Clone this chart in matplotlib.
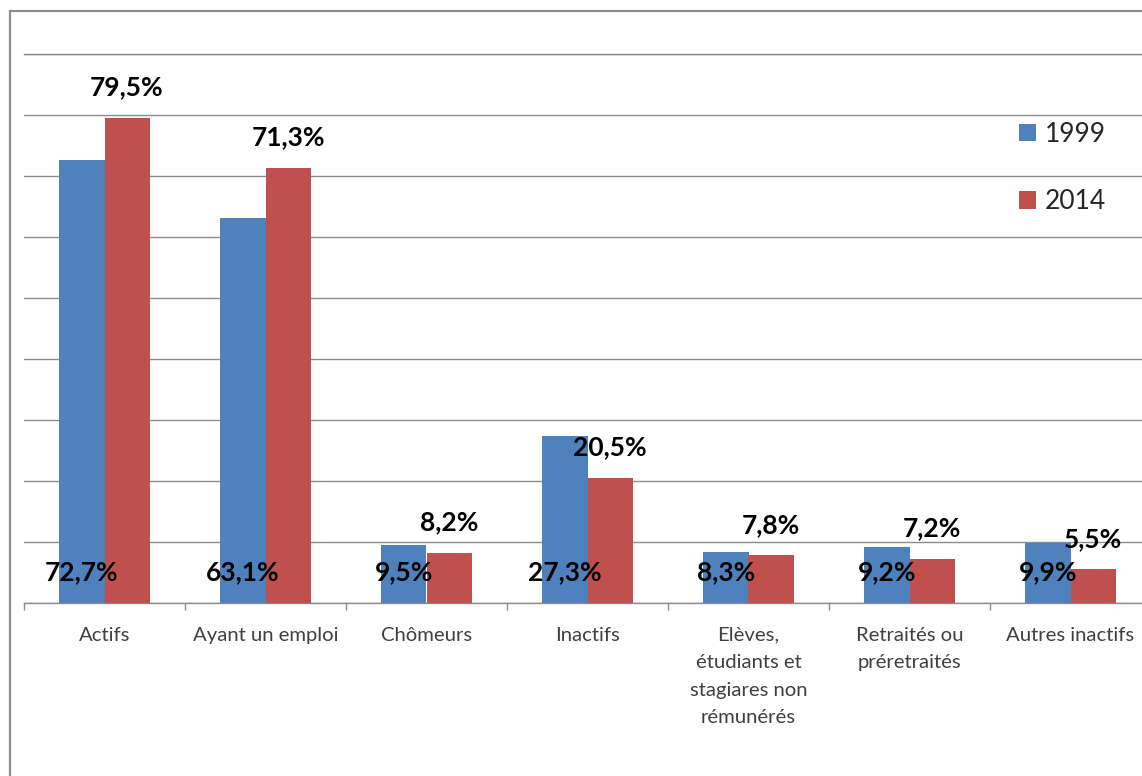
import matplotlib
matplotlib.use("Agg")
import matplotlib.pyplot as plt
import numpy as np
from matplotlib.patches import Rectangle

### DATA ###
categories = ["Actifs", "Ayant un emploi", "Chômeurs", "Inactifs",
              "Elèves,\nétudiants et\nstagiares non\nrémunérés",
              "Retraités ou\npréretraités", "Autres inactifs"]
values_1999 = [72.7, 63.1, 9.5, 27.3, 8.3, 9.2, 9.9]
values_2014 = [79.5, 71.3, 8.2, 20.5, 7.8, 7.2, 5.5]
series_names = ["1999", "2014"]

### STYLE ###
BLUE = "#4F81BD"
RED = "#C0504D"
GRID = "#8C8C8C"
TEXT = "#404040"
FONT = ["Lato", "DejaVu Sans"]
plt.rcParams["font.family"] = FONT

W, H = 1142, 776
fig = plt.figure(figsize=(W / 100, H / 100), dpi=100)

# plot area in pixels (left, top, right, bottom) - right side runs past the image
left, top, right, bottom = 24, 54, 1151, 603
ax = fig.add_axes([left / W, (H - bottom) / H, (right - left) / W, (bottom - top) / H])

x = np.arange(len(categories))
bw = 0.28
ax.bar(x - bw / 2, values_1999, bw, color=BLUE, label=series_names[0], zorder=3)
ax.bar(x + bw / 2, values_2014, bw, color=RED, label=series_names[1], zorder=3)

def fmt(v):
    return ("%.1f%%" % v).replace(".", ",")

# 1999 labels sit near the base of the bars, 2014 labels above the bars
for xi, v in zip(x, values_1999):
    ax.text(xi - bw / 2, 5, fmt(v), ha="center", va="center",
            fontsize=19, fontweight="bold", color="black", zorder=4)
for xi, v in zip(x, values_2014):
    ax.text(xi + bw / 2, v + 5, fmt(v), ha="center", va="center",
            fontsize=19, fontweight="bold", color="black", zorder=4)

ax.set_xlim(-0.5, len(categories) - 0.5)
ax.set_ylim(0, 90)
ax.set_yticks(np.arange(0, 91, 10))
ax.yaxis.grid(True, color=GRID, linewidth=1.0)
ax.set_axisbelow(True)
ax.tick_params(axis="y", length=0, labelleft=False)

ax.set_xticks(x)
ax.set_xticklabels(categories, fontsize=14.6, color=TEXT, linespacing=1.75)
ax.set_xticks(np.arange(-0.5, len(categories), 1), minor=True)
ax.tick_params(axis="x", which="major", length=0, pad=17)
ax.tick_params(axis="x", which="minor", length=5, width=1, color=GRID, direction="out")

for s in ["left", "right"]:
    ax.spines[s].set_visible(False)
ax.spines["top"].set_color(GRID)
ax.spines["bottom"].set_color(GRID)
ax.spines["top"].set_linewidth(1.0)
ax.spines["bottom"].set_linewidth(1.0)

leg = ax.legend(loc="upper left", bbox_to_anchor=(995 / W, (H - 98) / H),
                bbox_transform=fig.transFigure, frameon=False, fontsize=19,
                handlelength=0.65, handleheight=0.65, handletextpad=0.35,
                labelspacing=1.6, labelcolor="#262626")

# outer chart border (cropped at right and bottom)
fig.add_artist(Rectangle((10 / W, -0.1), 1.2, (H - 11) / H + 0.1,
                         transform=fig.transFigure, fill=False,
                         edgecolor="#8C8C8C", linewidth=1.6))

fig.savefig("out.png", dpi=100)
